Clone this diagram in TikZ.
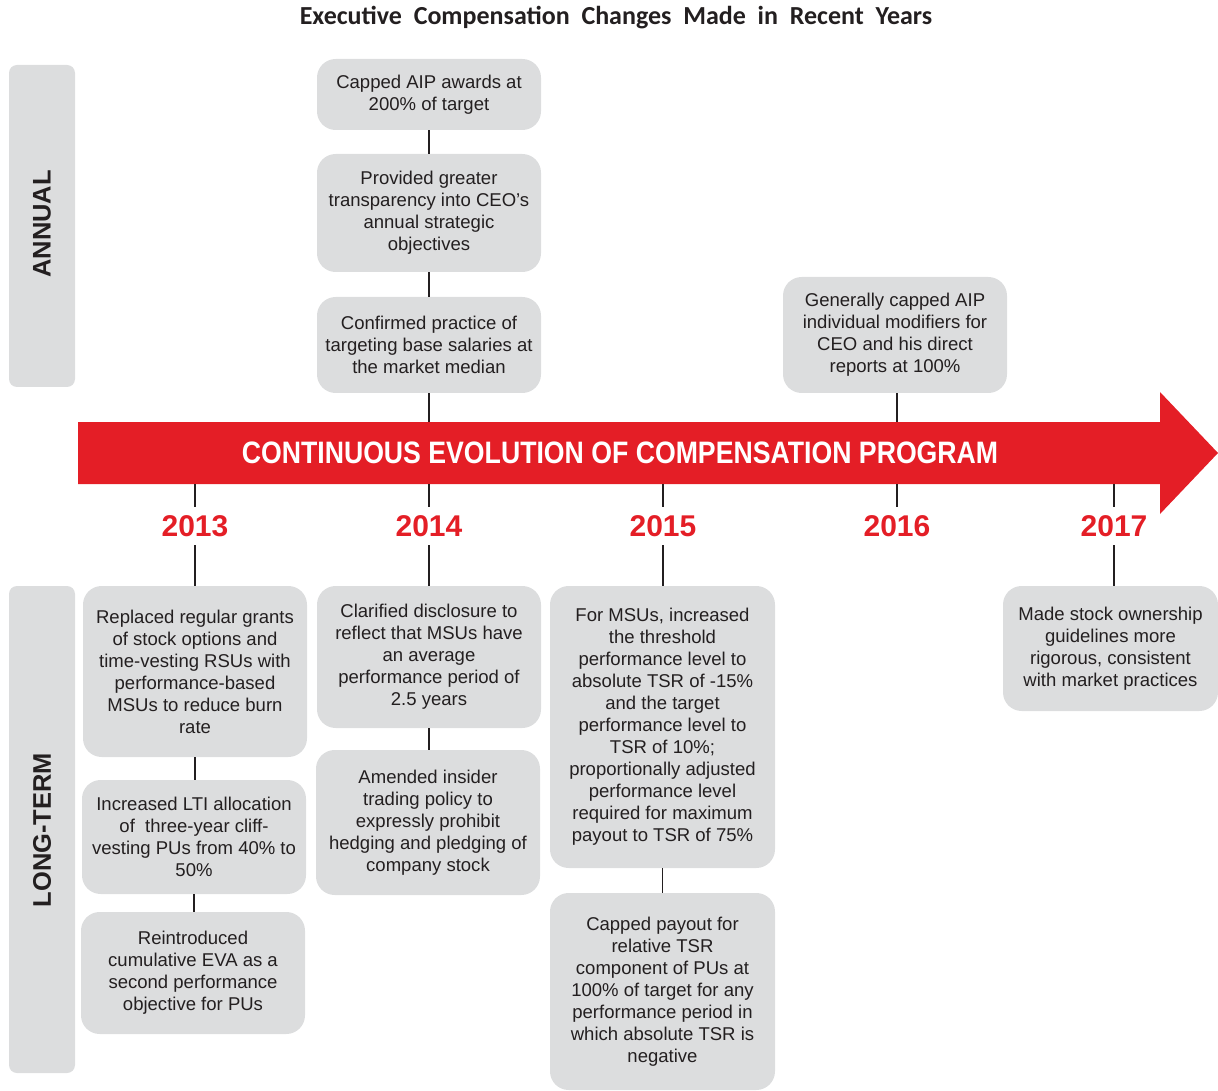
\documentclass[tikz,border=0pt]{standalone}
\usepackage{fontspec}
\setmainfont{Liberation Sans}
\newfontfamily\titlefont{Carlito}
\definecolor{boxgray}{RGB}{220,221,222}
\definecolor{arrred}{RGB}{228,30,38}
\definecolor{ink}{RGB}{35,31,32}
\begin{document}
\begin{tikzpicture}[x=0.75pt,y=-0.75pt,
  box/.style={fill=boxgray,rounded corners=14pt,minimum width=168pt,align=center,
    font=\fontsize{13.9}{16.5}\selectfont,text=ink,inner sep=0pt},
  sidebar/.style={fill=boxgray,rounded corners=6pt,minimum width=49.5pt,inner sep=0pt},
  sidelabel/.style={rotate=90,font=\bfseries\fontsize{19.1}{19.1}\selectfont,text=ink},
  year/.style={font=\bfseries\fontsize{22.5}{22.5}\selectfont,text=arrred,minimum height=28.5pt,inner sep=0pt},
  link/.style={draw=ink,line width=1.4pt}]
\useasboundingbox (0,0) rectangle (1218,1091);

% title
\node[text=ink] (title) at (616,18) {\titlefont\bfseries\fontsize{19.5}{19.5}\selectfont Executive\ \ Compensation\ \ Changes\ \ Made\ \ in\ \ Recent\ \ Years};

% side bars
\node[sidebar,minimum height=241.5pt] (annbar) at (42,226) {};
\node[sidebar,minimum height=365.25pt] (ltbar) at (42,829.5) {};
\node[sidelabel] (annual) at (42,224) {ANNUAL};
\node[sidelabel] (longterm) at (42,830) {LONG-TERM};

% arrow
\fill[arrred] (78,422) -- (1160,422) -- (1160,392) -- (1218,453) -- (1160,514) -- (1160,484) -- (78,484) -- cycle;
\node[text=white] (arrtxt) at (620,453) {\scalebox{0.86}[1]{\bfseries\fontsize{23.25}{23.25}\selectfont CONTINUOUS EVOLUTION OF COMPENSATION PROGRAM}};

\coordinate (t14) at (429,422);
\coordinate (t16) at (897,422);
\coordinate (b13) at (195,484);
\coordinate (b14) at (429,484);
\coordinate (b15) at (663,484);
\coordinate (b16) at (897,484);
\coordinate (b17) at (1114,484);

% years
\node[year] (y13) at (195,526) {2013};
\node[year] (y14) at (429,526) {2014};
\node[year] (y15) at (663,526) {2015};
\node[year] (y16) at (897,526) {2016};
\node[year] (y17) at (1114,526) {2017};

% annual boxes
\node[box,minimum height=53.25pt] (a1) at (429,94.5) {Capped AIP awards at\\200\% of target};
\node[box,minimum height=88.5pt] (a2) at (429,213) {Provided greater\\transparency into CEO’s\\annual strategic\\objectives};
\node[box,minimum height=72pt] (a3) at (429,345) {Confirmed practice of\\targeting base salaries at\\the market median};
\node[box,minimum height=87pt] (a4) at (895,335) {Generally capped AIP\\individual modifiers for\\CEO and his direct\\reports at 100\%};

% long-term boxes
\node[box,minimum height=128.25pt] (l1) at (195,671.5) {Replaced regular grants\\of stock options and\\time-vesting RSUs with\\performance-based\\MSUs to reduce burn\\rate};
\node[box,minimum height=85.5pt] (l2) at (194,837) {Increased LTI allocation\\of\ \ three-year cliff-\\vesting PUs from 40\% to\\50\%};
\node[box,minimum height=91.5pt] (l3) at (193,973) {Reintroduced\\cumulative EVA as a\\second performance\\objective for PUs};
\node[box,minimum height=106.5pt] (m1) at (429,657) {Clarified disclosure to\\reflect that MSUs have\\an average\\performance period of\\2.5 years};
\node[box,minimum height=108.75pt] (m2) at (428,822.5) {Amended insider\\trading policy to\\expressly prohibit\\hedging and pledging of\\company stock};
\node[box,minimum width=168.75pt,minimum height=211.5pt] (n1) at (662.5,727) {For MSUs, increased\\the threshold\\performance level to\\absolute TSR of -15\%\\and the target\\performance level to\\TSR of 10\%;\\proportionally adjusted\\performance level\\required for maximum\\payout to TSR of 75\%};
\node[box,minimum width=168.75pt,minimum height=147.75pt] (n2) at (662.5,991.5) {Capped payout for\\relative TSR\\component of PUs at\\100\% of target for any\\performance period in\\which absolute TSR is\\negative};
\node[box,minimum width=161.25pt,minimum height=93.75pt] (p1) at (1110.5,648.5) {Made stock ownership\\guidelines more\\rigorous, consistent\\with market practices};

% connectors
\draw[link] (a1.south) -- (a2.north);
\draw[link] (a2.south) -- (a3.north);
\draw[link] (a3.south) -- (t14);
\draw[link] (a4.south -| t16) -- (t16);
\draw[link] (b13) -- (y13.north);
\draw[link] (b14) -- (y14.north);
\draw[link] (b15) -- (y15.north);
\draw[link] (b16) -- (y16.north);
\draw[link] (b17) -- (y17.north);
\draw[link] (y13.south) -- (l1.north);
\draw[link] (y14.south) -- (m1.north);
\draw[link] (y15.south) -- (y15.south |- n1.north);
\draw[link] (y17.south) -- (y17.south |- p1.north);
\draw[link] (l1.south) -- (l1.south |- l2.north);
\draw[link] (l2.south) -- (l2.south |- l3.north);
\draw[link] (m1.south) -- (m1.south |- m2.north);
\draw[link] (n1.south) -- (n2.north);
\end{tikzpicture}
\end{document}
